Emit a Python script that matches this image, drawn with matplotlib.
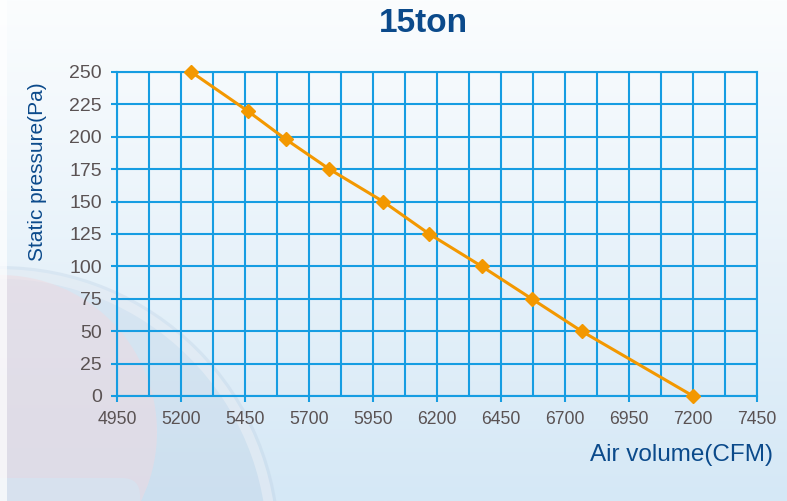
import matplotlib
matplotlib.use("Agg")
import matplotlib.pyplot as plt
import numpy as np
from matplotlib.patches import Circle, FancyBboxPatch, Rectangle

plt.rcParams["font.family"] = ["Liberation Sans", "DejaVu Sans"]

# fan curve
air_volume = [5240, 5460, 5610, 5780, 5990, 6170, 6375, 6570, 6765, 7200]   # CFM
static_pressure = [250, 220, 198, 175, 150, 125, 100, 75, 50, 0]            # Pa

x_ticks = [4950, 5200, 5450, 5700, 5950, 6200, 6450, 6700, 6950, 7200, 7450]
y_ticks = [0, 25, 50, 75, 100, 125, 150, 175, 200, 225, 250]

title = "15ton"
x_label = "Air volume(CFM)"
y_label = "Static pressure(Pa)"

GRID = "#169de2"
ORANGE = "#f39800"
NAVY = "#0b4a8b"
TICKTXT = "#5a5253"

W, H = 787, 501
fig = plt.figure(figsize=(W / 100, H / 100), dpi=100)

# background: pale vertical gradient plus the faint round shapes bottom-left
bg = fig.add_axes([0, 0, 1, 1], zorder=-10)
top = np.array([0xfb, 0xfd, 0xfe]) / 255
bot = np.array([0xd5, 0xe8, 0xf6]) / 255
t = np.linspace(0, 1, 256)[:, None]
grad = top[None, :] * (1 - t) + bot[None, :] * t
bg.imshow(grad[:, None, :], extent=[0, W, H, 0], aspect="auto")
bg.add_patch(Circle((0, 546), 280, fc="#b9cde2", ec="none", alpha=0.3))
bg.add_patch(Circle((0, 546), 272, fc="none", ec="#eef2f7", lw=7, alpha=0.5))
bg.add_patch(Circle((0, 432), 157, fc="#efd9e0", ec="none", alpha=0.5))
bg.add_patch(FancyBboxPatch((-40, 478), 180, 60, boxstyle="round,pad=0,rounding_size=18",
                            fc="#d3e6f3", ec="none", alpha=0.6))
bg.add_patch(Rectangle((0, 0), 7, H, fc="white", ec="none", alpha=0.7))
bg.set_xlim(0, W)
bg.set_ylim(H, 0)
bg.axis("off")

ax = fig.add_axes([117 / W, (H - 396) / H, 640 / W, 324 / H])
ax.set_facecolor("none")

ax.plot(air_volume, static_pressure, color=ORANGE, lw=2.2, marker="D",
        ms=7, mfc=ORANGE, mec=ORANGE, zorder=5, clip_on=False)

ax.set_xlim(x_ticks[0], x_ticks[-1])
ax.set_ylim(y_ticks[0], y_ticks[-1])
ax.set_xticks(x_ticks)
ax.set_xticks(np.arange(x_ticks[0] + 125, x_ticks[-1], 250), minor=True)
ax.set_yticks(y_ticks)
ax.grid(True, which="both", color=GRID, lw=1.5)
ax.set_axisbelow(True)
for s in ax.spines.values():
    s.set_color(GRID)
    s.set_linewidth(1.5)
ax.tick_params(axis="both", which="major", color=GRID, width=1.5, length=4,
               direction="out", labelcolor=TICKTXT)
ax.tick_params(axis="x", which="minor", length=0)
ax.tick_params(axis="x", labelsize=12.7, pad=6.5)
ax.tick_params(axis="y", labelsize=14, pad=7)

fig.text(423 / W, 1 - 24 / H, title, ha="center", va="center",
         fontsize=24, fontweight="bold", color=NAVY)
fig.text(773 / W, 1 - 455 / H, x_label, ha="right", va="center",
         fontsize=17.5, color=NAVY)
fig.text(38 / W, 1 - 172 / H, y_label, ha="center", va="center",
         rotation=90, fontsize=15, color=NAVY)

fig.savefig("out.png", dpi=100)
